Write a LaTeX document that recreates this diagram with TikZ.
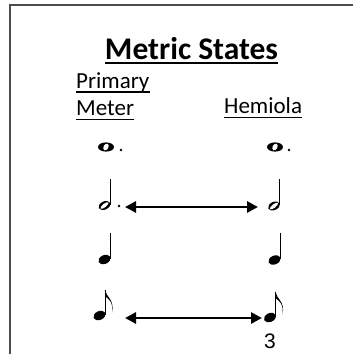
\documentclass[tikz,border=0pt]{standalone}
\usepackage{fontspec}
\setmainfont{Carlito}
\newfontfamily\numfont{Liberation Sans}
\usetikzlibrary{arrows.meta,calc}
\tikzset{
  txt/.style={inner sep=0pt, anchor=base west, font=\fontsize{23}{26}\selectfont},
  uline/.style={line width=1.5pt},
  arr/.style={line width=2.8pt, {Triangle[length=11pt,width=11pt]}-{Triangle[length=11pt,width=11pt]}},
  stemline/.style={line width=1pt},
  wholenote/.pic={
    \fill (0,0) ellipse (8 and 4.6);
    \fill[white, rotate=60] (0,0) ellipse (3.6 and 2.4);
  },
  halfnote/.pic={
    \fill[rotate=25] (0,0) ellipse (6.2 and 4.1);
    \fill[white, rotate=38] (0,0) ellipse (5 and 1.8);
    \draw[stemline] (5.8,-1) -- (5.8,-27);
  },
  quarternote/.pic={
    \fill[rotate=25] (0,0) ellipse (6.4 and 4.4);
    \draw[stemline] (5.9,-1) -- (5.9,-27);
  },
  eighthnote/.pic={
    \fill[rotate=25] (0,0) ellipse (6.4 and 4.4);
    \draw[stemline] (5.9,-1) -- (5.9,-26);
    \fill (5.4,-26) .. controls (6,-19) and (15.5,-16) .. (12.5,-3)
          .. controls (14,-14) and (8.5,-17) .. (5.9,-19) -- cycle;
  },
  dotmark/.pic={\fill (0,0) circle (1.4);}
}
\begin{document}
\begin{tikzpicture}[x=1pt,y=-1pt]
\useasboundingbox (0,0) rectangle (353,354);
% frame
\draw[line width=2pt, black!70] (10,354) -- (10,5) -- (353,5);
% title
\node[inner sep=0pt, anchor=base, font=\fontsize{31.5}{34}\selectfont\bfseries] (title) at (191.5,59) {Metric States};
\draw[line width=2.5pt] ($(title.base west)+(0,4)$) -- ($(title.base east)+(0,4)$);
% column heads
\node[txt] (prim) at (76,88) {Primary};
\node[txt] (met) at (76,115.5) {Meter};
\node[txt] (hem) at (224,113.5) {Hemiola};
\foreach \n in {prim,met,hem}
  \draw[uline] ($(\n.base west)+(0,4)$) -- ($(\n.base east)+(0,4)$);
% notes, primary meter
\pic (lw) at (106,147) {wholenote};
\pic at (121,150) {dotmark};
\pic (lh) at (104.5,205.5) {halfnote};
\pic at (119,206) {dotmark};
\pic (lq) at (104.5,259.5) {quarternote};
\pic (le) at (99.5,315.5) {eighthnote};
% notes, hemiola
\pic (rw) at (275,147) {wholenote};
\pic at (289,150) {dotmark};
\pic (rh) at (274,206) {halfnote};
\pic (rq) at (274.5,260) {quarternote};
\pic (re) at (270,317.5) {eighthnote};
\node[inner sep=0pt, font=\numfont\fontsize{21}{24}\selectfont] (three) at (270,341) {3};
% arrows
\coordinate (a1l) at (125,207);
\coordinate (a1r) at (258,207);
\coordinate (a2l) at (125,318);
\coordinate (a2r) at (262,318);
\draw[arr] (a1l) -- (a1r);
\draw[arr] (a2l) -- (a2r);
\end{tikzpicture}
\end{document}
